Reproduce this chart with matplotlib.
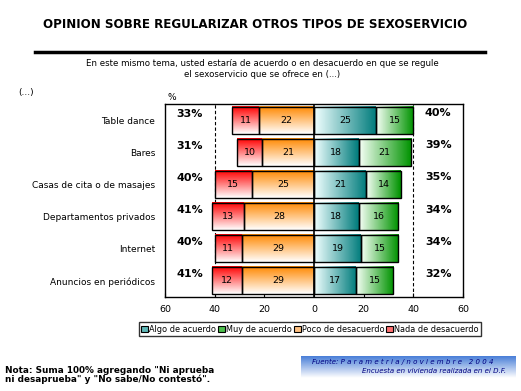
import numpy as np
import matplotlib
matplotlib.use("Agg")
import matplotlib.pyplot as plt
from matplotlib.colors import LinearSegmentedColormap
from matplotlib.patches import Rectangle, Patch
from matplotlib.lines import Line2D

categories = ["Table dance", "Bares", "Casas de cita o de masajes",
              "Departamentos privados", "Internet", "Anuncios en periódicos"]
nada = [11, 10, 15, 13, 11, 12]
poco = [22, 21, 25, 28, 29, 29]
algo = [25, 18, 21, 18, 19, 17]
muy = [15, 21, 14, 16, 15, 15]
total_desacuerdo = ["33%", "31%", "40%", "41%", "40%", "41%"]
total_acuerdo = ["40%", "39%", "35%", "34%", "34%", "32%"]
ticks = [-60, -40, -20, 0, 20, 40, 60]

cm_red = LinearSegmentedColormap.from_list("r", ["#ffffff", "#ff0000"])
cm_org = LinearSegmentedColormap.from_list("o", ["#ffffff", "#ff8800"])
cm_teal = LinearSegmentedColormap.from_list("t", ["#f0ffff", "#007c7c"])
cm_green = LinearSegmentedColormap.from_list("g", ["#f5fff5", "#009300"])

fig = plt.figure(figsize=(5.21, 3.91), dpi=100)
ax = fig.add_axes([165 / 521, 1 - 297 / 391, 298 / 521, 193 / 391])

vert = np.linspace(0, 1, 50).reshape(-1, 1)   # bottom white -> top colour
horiz = np.linspace(0, 1, 50).reshape(1, -1)  # left white -> right colour
h = 0.84
n = len(categories)

def seg(x0, x1, y, cmap, grad, val):
    ax.imshow(grad, cmap=cmap, extent=[x0, x1, y - h / 2, y + h / 2],
              origin="lower", aspect="auto", zorder=2, interpolation="bilinear")
    ax.add_patch(Rectangle((x0, y - h / 2), x1 - x0, h, fill=False,
                           edgecolor="black", lw=1, zorder=3))
    ax.text((x0 + x1) / 2, y, str(val), ha="center", va="center",
            fontsize=6.8, zorder=4)

for i in range(n):
    y = n - 1 - i
    a = -(nada[i] + poco[i])
    seg(a, a + nada[i], y, cm_red, vert, nada[i])
    seg(-poco[i], 0, y, cm_org, vert, poco[i])
    seg(0, algo[i], y, cm_teal, horiz, algo[i])
    seg(algo[i], algo[i] + muy[i], y, cm_green, horiz, muy[i])
    ax.text(-50, y + 0.2, total_desacuerdo[i], ha="center", va="center",
            fontsize=8, fontweight="bold")
    ax.text(50, y + 0.22, total_acuerdo[i], ha="center", va="center",
            fontsize=8, fontweight="bold")

for xv in (-40, 40):
    ax.axvline(xv, color="black", ls=(0, (3, 2)), lw=0.8, zorder=1)
ax.axvline(0, color="black", lw=1.2, zorder=3)

ax.set_xlim(-60, 60)
ax.set_ylim(-0.5, n - 0.5)
ax.set_xticks(ticks)
ax.set_xticklabels([str(abs(t)) for t in ticks], fontsize=6.8)
ax.tick_params(axis="x", length=3, direction="in", pad=6)
ax.set_yticks(range(n))
ax.set_yticklabels(categories[::-1], fontsize=6.5)
ax.tick_params(axis="y", length=0, pad=7)
for s in ax.spines.values():
    s.set_color("black")
    s.set_linewidth(1)

# title and rule
fig.text(43 / 521, 1 - 25 / 391, "OPINION SOBRE REGULARIZAR OTROS TIPOS DE SEXOSERVICIO",
         fontsize=8.6, fontweight="bold", va="center", ha="left")
fig.add_artist(Line2D([35 / 521, 485 / 521], [1 - 52 / 391] * 2, color="black", lw=2.5))
fig.text(262 / 521, 1 - 69 / 391,
         "En este mismo tema, usted estaría de acuerdo o en desacuerdo en que se regule\n"
         "el sexoservicio que se ofrece en (...)",
         fontsize=6.25, ha="center", va="center", linespacing=1.3)
fig.text(18 / 521, 1 - 93 / 391, "(...)", fontsize=6.5, va="center")
fig.text(168 / 521, 1 - 97 / 391, "%", fontsize=6.5, va="center")

handles = [Patch(facecolor="#5fb8b8", edgecolor="black", lw=0.8),
           Patch(facecolor="#4cbf4c", edgecolor="black", lw=0.8),
           Patch(facecolor="#ffc080", edgecolor="black", lw=0.8),
           Patch(facecolor="#ff7070", edgecolor="black", lw=0.8)]
leg = fig.legend(handles, ["Algo de acuerdo", "Muy de acuerdo", "Poco de desacuerdo",
                           "Nada de desacuerdo"],
                 loc="center", bbox_to_anchor=(310 / 521, 1 - 329 / 391), ncol=4,
                 fontsize=5.9, frameon=True, fancybox=False, handlelength=0.9,
                 handleheight=0.7, handletextpad=0.1, columnspacing=0.2,
                 borderpad=0.25, borderaxespad=0)
leg.get_frame().set_edgecolor("black")
leg.get_frame().set_linewidth(1)

fig.text(5 / 521, 1 - 375 / 391,
         "Nota: Suma 100% agregando \"Ni aprueba\nni desaprueba\" y \"No sabe/No contestó\".",
         fontsize=6.4, fontweight="bold", va="center", linespacing=1.0)

# source box with gradient
sax = fig.add_axes([301 / 521, 1 - 378 / 391, 214 / 521, 22 / 391])
cm_blue = LinearSegmentedColormap.from_list("b", ["#ffffff", "#4a7fd8"])
sax.imshow(np.linspace(0, 1, 50).reshape(-1, 1), cmap=cm_blue, aspect="auto",
           origin="lower", extent=[0, 1, 0, 1])
sax.set_xlim(0, 1)
sax.set_ylim(0, 1)
sax.axis("off")
sax.text(0.05, 0.72, "Fuente: P a r a m e t r i a / n o v i e m b r e   2 0 0 4",
         fontsize=5, style="italic", color="#000080", va="center")
sax.text(0.62, 0.3, "Encuesta en vivienda realizada en el D.F.",
         fontsize=5, style="italic", color="#000080", va="center", ha="center")

fig.savefig("out.png", dpi=100)
